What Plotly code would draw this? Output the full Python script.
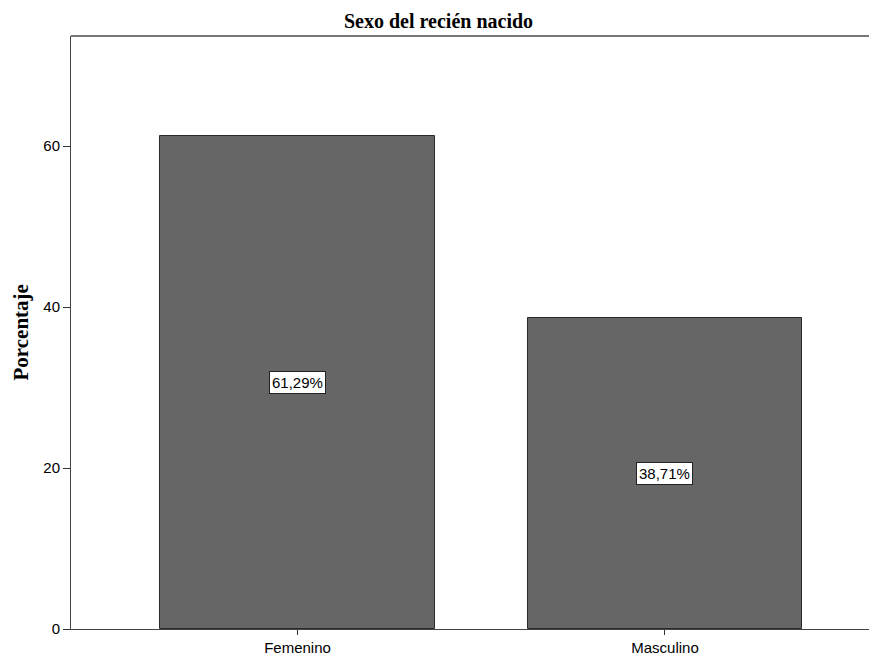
import plotly.graph_objects as go

categories = ["Femenino", "Masculino"]
values = [61.29, 38.71]
labels = ["61,29%", "38,71%"]
y_ticks = [0, 20, 40, 60]

W, H = 861, 648
ML, MR, MT, MB = 63, 0, 28, 24
PW = W - ML - MR

fig = go.Figure()
fig.add_trace(go.Bar(
    x=categories, y=values, width=0.748,
    marker=dict(color="#666666", line=dict(color="#2a2a2a", width=1)),
    hoverinfo="skip",
))

for c, v, t in zip(categories, values, labels):
    fig.add_annotation(
        x=c, y=v / 2, text=t, showarrow=False, xref="x", yref="y",
        bgcolor="white", bordercolor="#222222", borderwidth=1, borderpad=2,
        font=dict(family="Liberation Sans, Arial", size=15, color="black"),
    )

fig.add_annotation(
    x=(430 - ML) / PW, y=1, xref="paper", yref="paper", yanchor="middle", yshift=15,
    text="<b>Sexo del recién nacido</b>", showarrow=False,
    font=dict(family="Liberation Serif, Times New Roman", size=20, color="black"),
)
fig.add_annotation(
    x=(12 - ML) / PW, y=0.5, xref="paper", yref="paper", xanchor="center", yanchor="middle",
    text="<b>Porcentaje</b>", textangle=-90, showarrow=False,
    font=dict(family="Liberation Serif, Times New Roman", size=21, color="black"),
)

fig.update_layout(
    width=W, height=H, autosize=False,
    margin=dict(l=ML, r=MR, t=MT, b=MB, pad=0),
    plot_bgcolor="white", paper_bgcolor="white",
    showlegend=False,
    bargap=0,
)
fig.update_xaxes(
    type="category", range=[-0.6163, -0.6163 + PW / 367.5],
    showline=True, linecolor="#444444", linewidth=1, mirror=False,
    ticks="outside", ticklen=5, tickcolor="#333333",
    tickfont=dict(family="Liberation Sans, Arial", size=15, color="black"),
    showgrid=False, zeroline=False,
)
fig.update_yaxes(
    range=[0, 73.7], tickvals=y_ticks,
    showline=True, linecolor="#444444", linewidth=1,
    ticks="outside", ticklen=7, tickcolor="#333333",
    tickfont=dict(family="Liberation Sans, Arial", size=15, color="black"),
    showgrid=False, zeroline=False,
)
# top border of the frame
fig.add_shape(type="line", xref="paper", yref="paper", x0=0, x1=1, y0=1, y1=1,
              line=dict(color="#777777", width=2))

fig.write_html("out.html")
